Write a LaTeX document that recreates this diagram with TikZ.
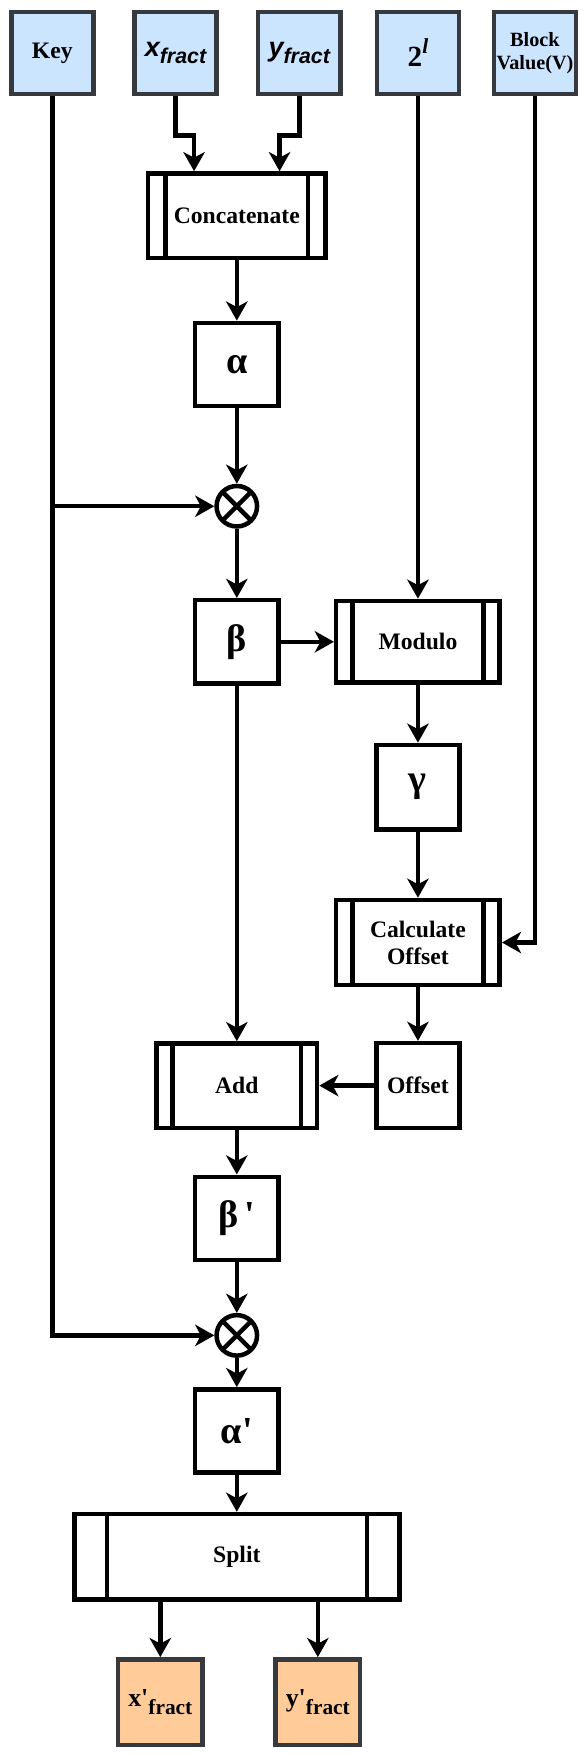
\documentclass[tikz,border=0pt]{standalone}
\usepackage{fontspec}
\setmainfont{Liberation Serif}
\newfontfamily\arialfont{Liberation Sans}
\usetikzlibrary{arrows.meta,calc}
\definecolor{inblue}{HTML}{CCE5FF}
\definecolor{outorange}{HTML}{FFCC99}
\definecolor{boxline}{HTML}{36393D}
\newcommand{\lowtxt}[1]{\raisebox{-0.3em}{\fontsize{9.5}{10}\selectfont #1}}
\newcommand{\greek}[1]{{\fontsize{17}{17}\selectfont #1}}
\tikzset{
  inbox/.style={draw=boxline,fill=inblue,line width=2pt,minimum width=36.5pt,minimum height=36.5pt},
  outbox/.style={inbox,fill=outorange,minimum width=37.5pt,minimum height=38pt},
  varbox/.style={draw,line width=2pt,minimum width=37pt,minimum height=37pt},
  subproc/.style={draw,line width=2pt,minimum height=37.5pt,
    path picture={\draw[line width=2pt]
      ($(path picture bounding box.north west)!0.1!(path picture bounding box.north east)$) --
      ($(path picture bounding box.south west)!0.1!(path picture bounding box.south east)$)
      ($(path picture bounding box.north west)!0.9!(path picture bounding box.north east)$) --
      ($(path picture bounding box.south west)!0.9!(path picture bounding box.south east)$);}},
  mulnode/.style={circle,draw,line width=2pt,minimum size=18pt,
    path picture={\draw[line width=2pt]
      (path picture bounding box.north west) -- (path picture bounding box.south east)
      (path picture bounding box.north east) -- (path picture bounding box.south west);}},
}
\begin{document}
\begin{tikzpicture}
  [x=0.5pt,y=-0.5pt,>={Stealth[length=8.5pt,width=9.5pt,inset=2.5pt]},
   every node/.style={inner sep=0pt,align=center,font=\fontsize{10.5}{12}\selectfont\bfseries}]
\useasboundingbox (0,0) rectangle (520,1560.9);
% inputs
\node (key)[inbox] at (46.5,47) {Key};
  \node (xf)[inbox] at (156,47) {\arialfont\bfseries\itshape{\fontsize{12}{12}\selectfont x}\lowtxt{fract}};
  \node (yf)[inbox] at (266,47) {\arialfont\bfseries\itshape{\fontsize{12}{12}\selectfont y}\lowtxt{fract}};
  \node (pow)[inbox] at (371.5,47) {{\fontsize{13}{13}\selectfont 2}\raisebox{0.55em}{\fontsize{9.5}{10}\selectfont\itshape l}};
  \node (blk)[inbox,font=\fontsize{9}{10.4}\selectfont\bfseries] at (475.5,47) {Block\\Value(V)};

% main column
\node (concat)[subproc,minimum width=79pt] at (210.5,191.7) {Concatenate};
  \node (alpha)[varbox] at (210.5,324) {\greek{α}};
  \node (mul1)[mulnode] at (210.5,450) {};
  \node (beta)[varbox] at (210.5,570.5) {\greek{β}};
  \node (modulo)[subproc,minimum width=72.7pt,minimum height=36.3pt] at (371.5,570.5) {Modulo};
  \node (gamma)[varbox,minimum height=37.5pt] at (371.5,699.7) {\greek{γ}};
  \node (calc)[subproc,minimum width=72.7pt,minimum height=37.8pt] at (371.5,837.8) {Calculate\\Offset};
  \node (add)[subproc,minimum width=71.3pt] at (210.5,965) {Add};
  \node (offset)[varbox,minimum height=37.8pt] at (371.5,965) {Offset};
  \node (betap)[varbox] at (210.5,1083) {\greek{β\,\textquotesingle}};
  \node (mul2)[mulnode] at (210.5,1187) {};
  \node (alphap)[varbox] at (210.5,1272) {\greek{α\textquotesingle}};
  \node (split)[subproc,minimum width=144.5pt,minimum height=37.9pt] at (210.5,1383.7) {Split};

% outputs
\node (xo)[outbox] at (142.5,1513) {{\fontsize{11.5}{12}\selectfont x\textquotesingle}\lowtxt{fract}};
  \node (yo)[outbox] at (282.5,1513) {{\fontsize{11.5}{12}\selectfont y\textquotesingle}\lowtxt{fract}};

 \draw [line width=2pt,->] (xf.south) -- ++(0,35) -| ([xshift=-19pt]concat.north);
 \draw [line width=2pt,->] (yf.south) -- ++(0,35) -| ([xshift=19pt]concat.north);
 \path [line width=2pt] (concat) edge [->] (alpha);
 \path [line width=2pt] (alpha) edge [->] (mul1);
 \draw [line width=2pt,->] (key) |- (mul2);
 \draw [line width=2pt,->] (key.south |- mul1) -- (mul1);
 \path [line width=2pt] (mul1) edge [->] (beta);
 \path [line width=2pt] (pow) edge [->] (modulo);
 \path [line width=2pt] (beta) edge [->] (modulo);
 \path [line width=2pt] (modulo) edge [->] (gamma);
 \path [line width=2pt] (gamma) edge [->] (calc);
 \draw [line width=2pt,->] (blk) |- (calc);
 \path [line width=2pt] (calc) edge [->] (offset);
 \path [line width=2pt] (offset) edge [->] (add);
 \path [line width=2pt] (beta) edge [->] (add);
 \path [line width=2pt] (add) edge [->] (betap);
 \path [line width=2pt] (betap) edge [->] (mul2);
 \path [line width=2pt] (mul2) edge [->] (alphap);
 \path [line width=2pt] (alphap) edge [->] (split);
 \draw [line width=2pt,->] (split.south -| xo) -- (xo);
 \draw [line width=2pt,->] (split.south -| yo) -- (yo);
\end{tikzpicture}
\end{document}
